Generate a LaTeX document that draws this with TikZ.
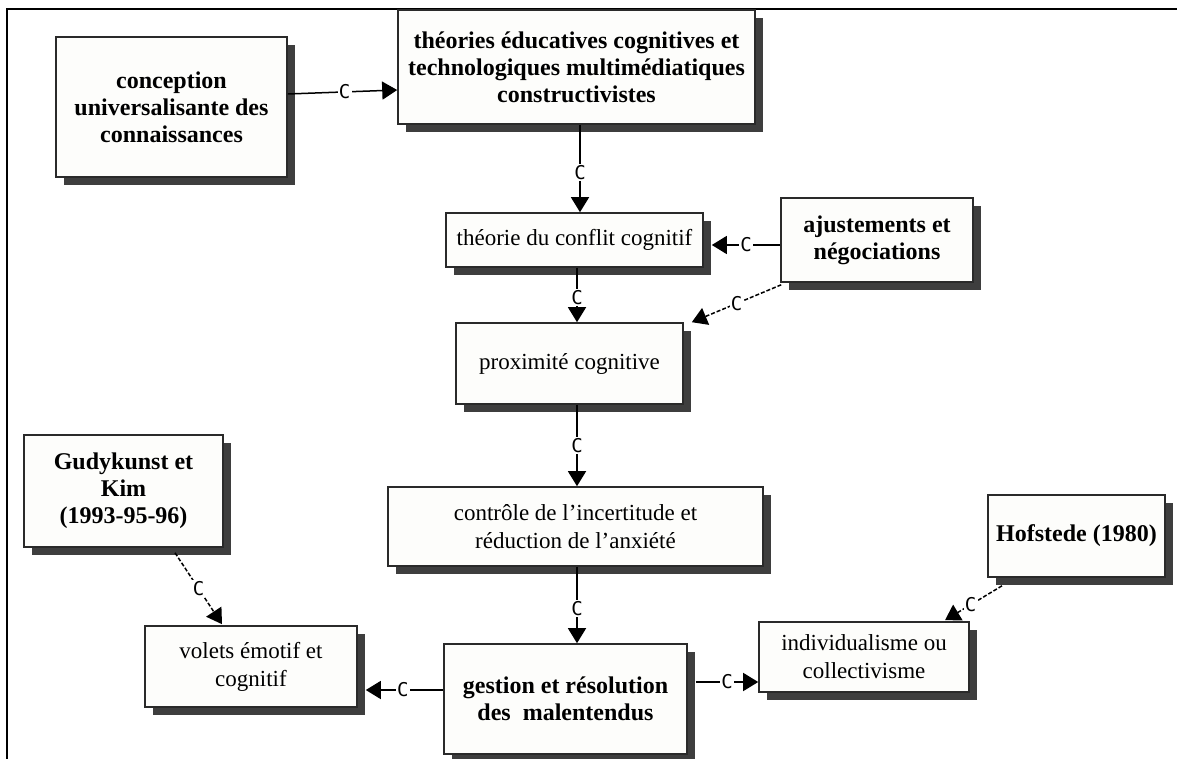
\documentclass[tikz,border=0pt]{standalone}
\usepackage{fontspec}
\setmainfont{Liberation Serif}
\setmonofont{DejaVu Sans Mono}
\usetikzlibrary{arrows.meta,shadows,calc}

\definecolor{boxline}{HTML}{2A2A2A}
\definecolor{boxfill}{HTML}{FDFDFB}
\definecolor{shade}{HTML}{3E3E3E}

\begin{document}
\begin{tikzpicture}[x=1pt,y=-1pt,
  box/.style={draw=boxline, line width=1.6pt, fill=boxfill, align=center, inner sep=0pt,
    drop shadow={shadow xshift=8pt, shadow yshift=-8pt, fill=shade, opacity=1}},
  boldbox/.style={box, font=\fontsize{24}{27}\selectfont\bfseries},
  plainbox/.style={box, font=\fontsize{23}{28}\selectfont},
  conn/.style={line width=1.5pt, -{Triangle[length=15pt,width=18pt]}},
  dconn/.style={conn, dash pattern=on 4pt off 2pt},
  lab/.style={fill=white, inner sep=1.2pt, font=\fontsize{19}{19}\ttfamily}
]
\useasboundingbox (0,0) rectangle (1177,759);
\fill[white] (0,0) rectangle (1177,759);

% outer frame (top and left sides only)
\coordinate (fbl) at (7,759);
\coordinate (ftl) at (7,9);
\coordinate (ftr) at (1177,9);
\draw[line width=1.3pt] (fbl) -- (ftl) -- (ftr);

% boxes
\node[boldbox, minimum width=231pt, minimum height=140pt] (conc) at (171.5,107)
  {conception\\universalisante des\\connaissances};
\node[boldbox, minimum width=357pt, minimum height=114pt] (theo) at (576.5,67)
  {théories éducatives cognitives et\\technologiques multimédiatiques\\constructivistes};
\node[plainbox, minimum width=257pt, minimum height=54pt] (conf) at (574.5,240)
  {théorie du conflit cognitif};
\node[boldbox, minimum width=192pt, minimum height=84pt] (ajust) at (877,240)
  {ajustements et\\négociations};
\node[plainbox, minimum width=227pt, minimum height=81pt] (prox) at (569.5,363.5)
  {proximité cognitive};
\node[plainbox, minimum width=375pt, minimum height=79pt] (ctrl) at (575.5,526.5)
  {contrôle de l'incertitude et\\réduction de l'anxiété};
\node[boldbox, minimum width=243pt, minimum height=110pt] (gest) at (565.5,699)
  {gestion et résolution\\des~~malentendus};
\node[plainbox, minimum width=210pt, minimum height=70pt] (indiv) at (864,657)
  {individualisme ou\\collectivisme};
\node[boldbox, minimum width=177pt, minimum height=82pt] (hof) at (1076.5,536)
  {Hofstede (1980)};
\node[boldbox, minimum width=199pt, minimum height=112pt] (gudy) at (123.5,491)
  {Gudykunst et\\Kim\\(1993-95-96)};
\node[plainbox, minimum width=212pt, minimum height=81pt] (volets) at (251,666.5)
  {volets émotif et\\cognitif};

% connectors
\draw[conn] ($(conc.east)+(0,-13)$) -- ($(theo.west)+(0,23)$)
  node[lab, pos=0.52] {C};
\draw[conn] ($(theo.south)+(3.5,0)$) -- ($(conf.north)+(5.5,0)$)
  node[lab, pos=0.55] {C};
\draw[conn] ($(ajust.west)+(0,5)$) -- ($(conf.east)+(8,5)$)
  node[lab, pos=0.5] {C};
\draw[dconn] ($(ajust.south west)+(1,2)$) -- ($(prox.north east)+(8,0)$)
  node[lab, pos=0.5] {C};
\draw[conn] ($(conf.south)+(2.5,0)$) -- ($(prox.north)+(7.5,0)$)
  node[lab, pos=0.55] {C};
\draw[conn] ($(prox.south)+(7.5,0)$) -- ($(ctrl.north)+(1.5,0)$)
  node[lab, pos=0.5] {C};
\draw[conn] ($(ctrl.south)+(1.5,0)$) -- ($(gest.north)+(11.5,0)$)
  node[lab, pos=0.55] {C};
\draw[conn] ($(gest.west)+(0,-9)$) -- ($(volets.east)+(8,23.5)$)
  node[lab, pos=0.52] {C};
\draw[conn] ($(gest.east)+(8,-17)$) -- ($(indiv.west)+(0,25)$)
  node[lab, pos=0.5] {C};
\draw[dconn] ($(gudy.south)+(51.5,5)$) -- ($(volets.north)+(-29,-1)$)
  node[lab, pos=0.5] {C};
\draw[dconn] ($(hof.south)+(-74.5,8)$) -- ($(indiv.north)+(81,-1)$)
  node[lab, pos=0.55] {C};
\end{tikzpicture}
\end{document}
